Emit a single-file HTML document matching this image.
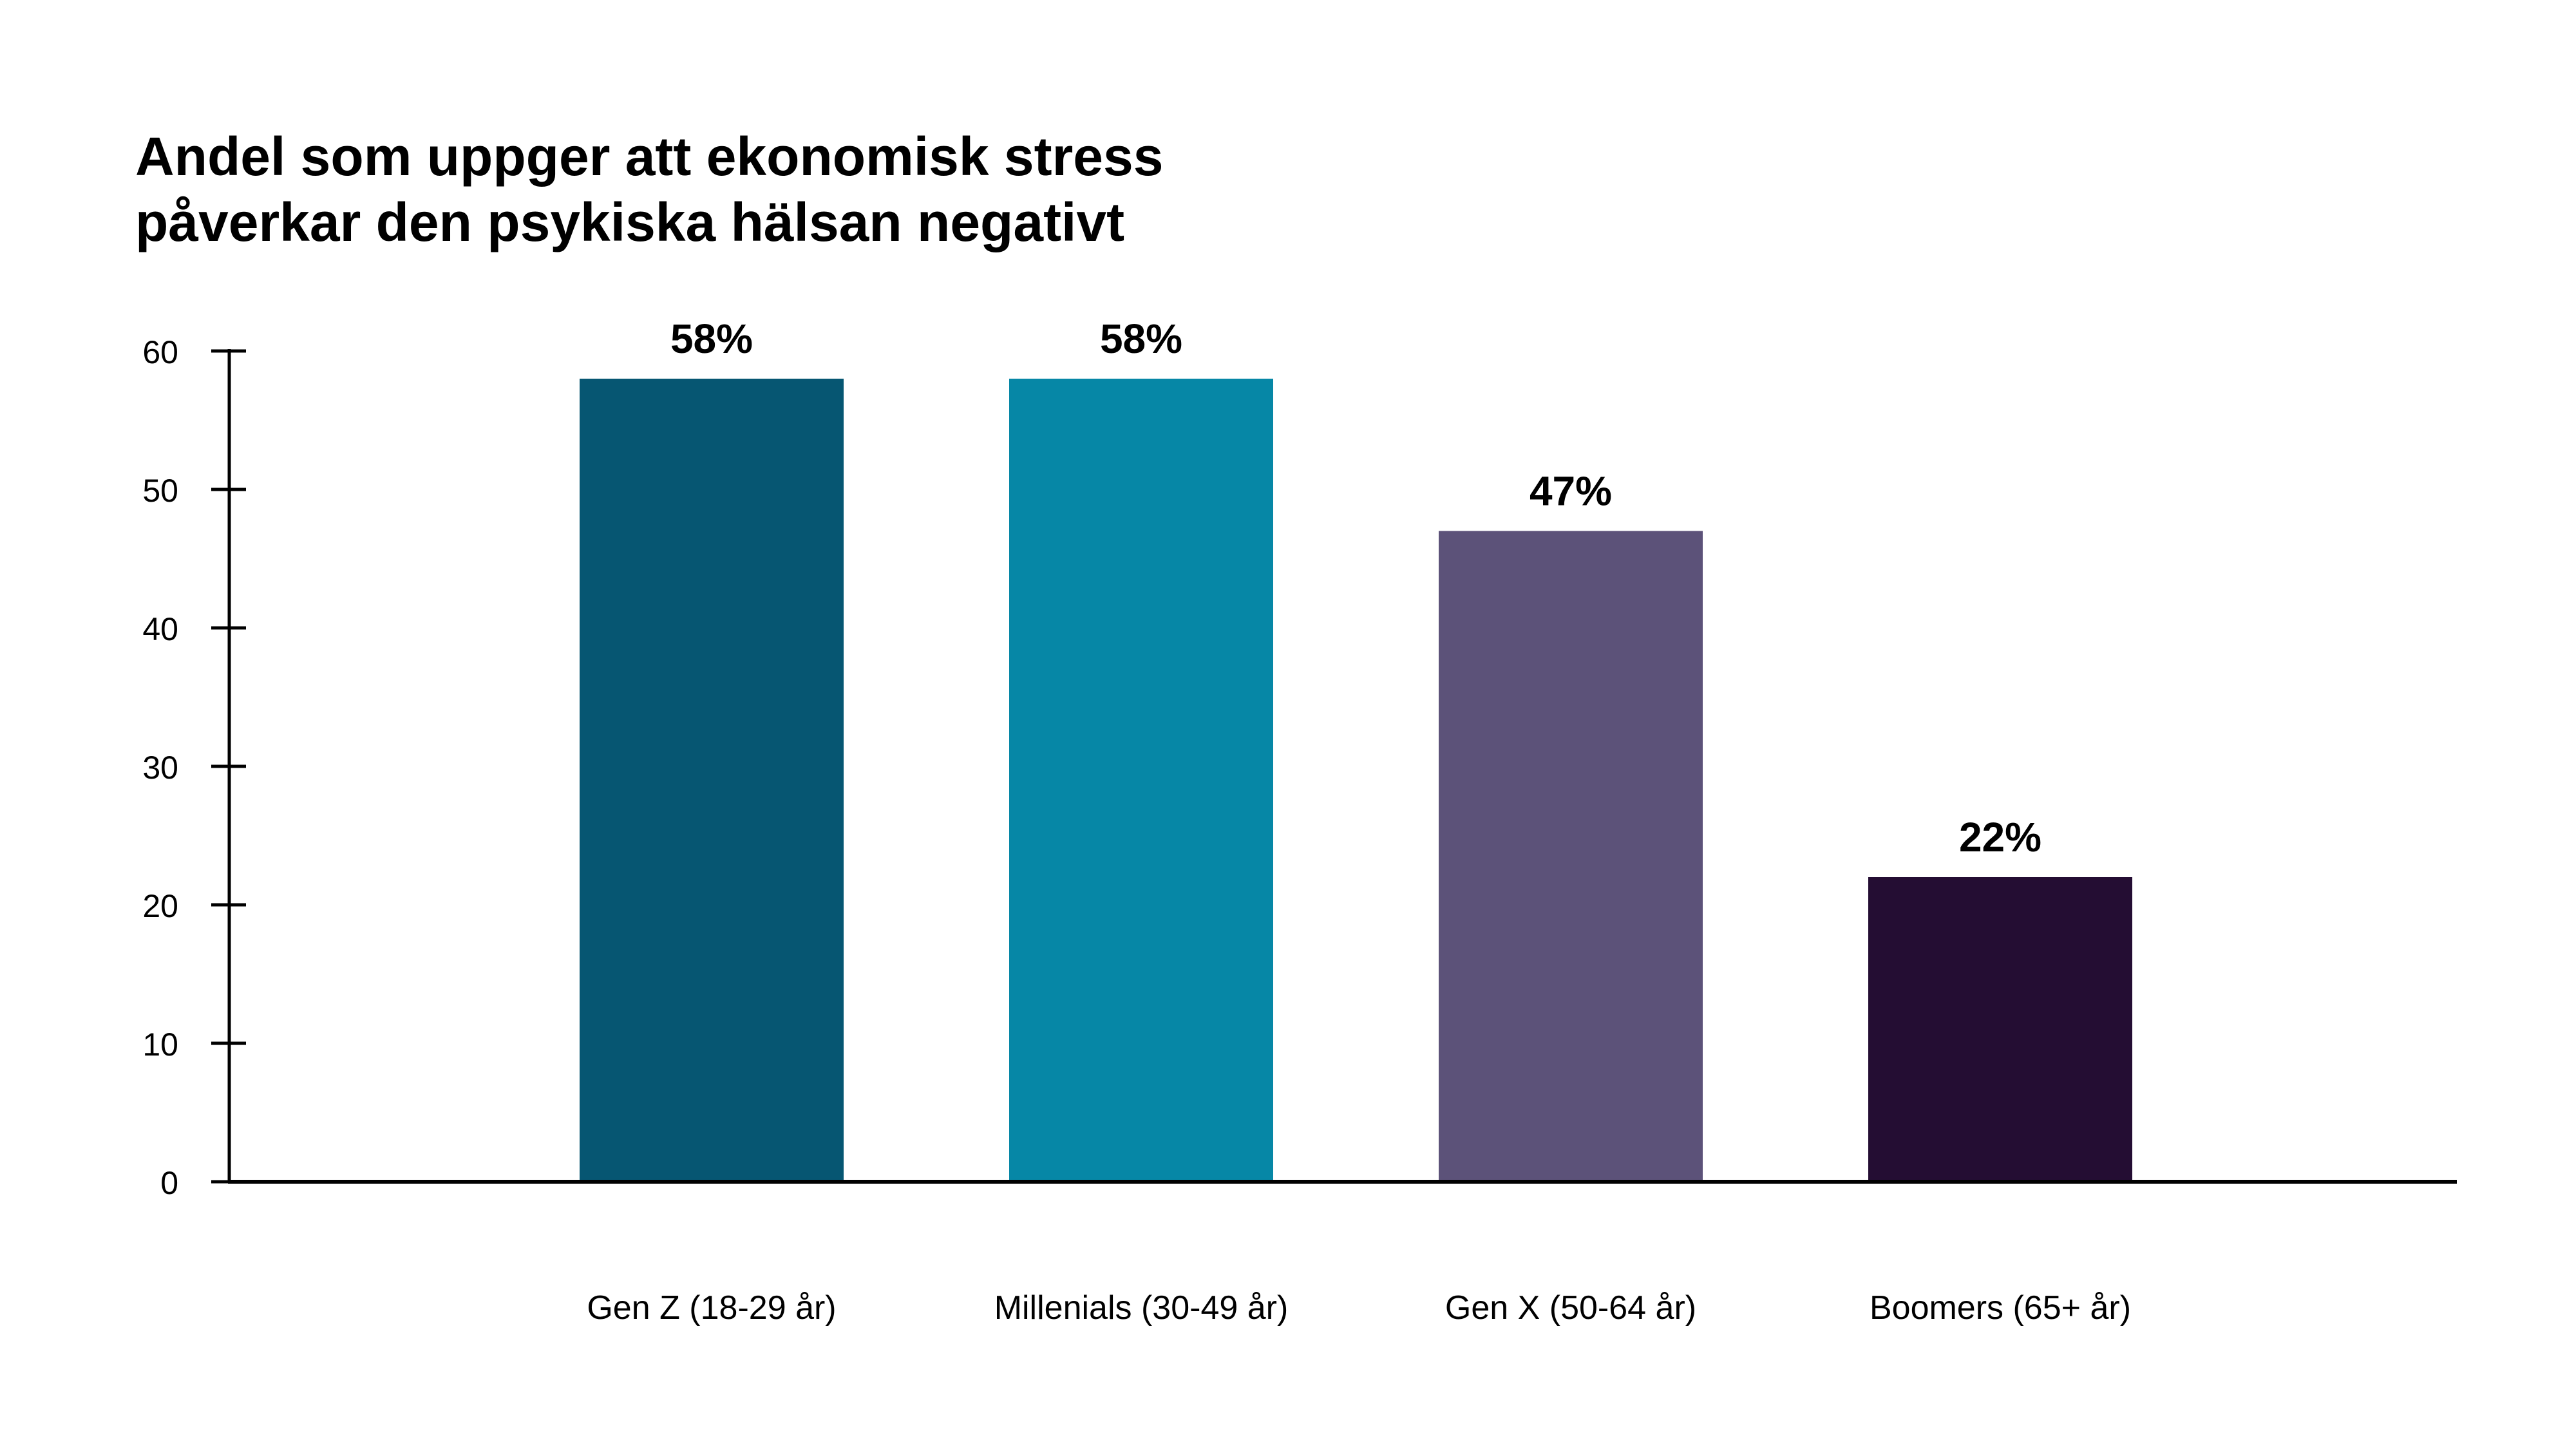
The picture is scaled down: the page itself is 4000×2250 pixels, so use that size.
<!DOCTYPE html>
<html><head><meta charset="utf-8"><style>
html,body{margin:0;padding:0;background:#fff;}
svg{display:block;font-family:"Liberation Sans",sans-serif;}
</style></head><body>
<svg id="chart" width="4000" height="2250" viewBox="0 0 4000 2250">
<text x="210" y="272" font-size="84" font-weight="bold" fill="#000">Andel som uppger att ekonomisk stress</text>
<text x="210" y="374" font-size="84" font-weight="bold" fill="#000">påverkar den psykiska hälsan negativt</text>
<g id="plot"></g>
</svg>
<script>
const categories = ["Gen Z (18-29 år)", "Millenials (30-49 år)", "Gen X (50-64 år)", "Boomers (65+ år)"];
const values = [58, 58, 47, 22];
const valueLabels = ["58%", "58%", "47%", "22%"];
const tickValues = [0, 10, 20, 30, 40, 50, 60];
const colors = ["#065672", "#0687a6", "#5c5279", "#240d33"];

const NS = "http://www.w3.org/2000/svg";
const g = document.getElementById("plot");
const y0 = 1835, yTop = 545, yMax = 60;
const y = v => y0 - (v / yMax) * (y0 - yTop);
const barW = 410, firstCenter = 1105, step = 667;
const x = i => firstCenter + i * step;
function mk(tag, attrs) { const e = document.createElementNS(NS, tag); for (const k in attrs) e.setAttribute(k, attrs[k]); g.appendChild(e); return e; }

values.forEach((v, i) => {
  const r = mk("rect", {x: x(i) - barW / 2, y: y(v), width: barW, height: y0 - y(v), fill: colors[i]});
  
  
  const t = mk("text", {x: x(i), y: y(v) - 40, "font-size": 64, "font-weight": "bold", "text-anchor": "middle", fill: "#000"});
  t.textContent = valueLabels[i];
  
  
  const c = mk("text", {x: x(i), y: 2048, "font-size": 52, "text-anchor": "middle", fill: "#000"});
  c.textContent = categories[i];
  
  
});
tickValues.forEach(v => {
  const l = mk("line", {x1: 328, x2: 382, y1: y(v), y2: y(v), stroke: "#000", "stroke-width": 5});
  
  
  const t = mk("text", {x: 277, y: y(v) + 19, "font-size": 50, "text-anchor": "end", fill: "#000"});
  t.textContent = v;
  
  
});
const ya = mk("line", {x1: 356, x2: 356, y1: yTop - 3, y2: y0, stroke: "#000", "stroke-width": 5});


const xa = mk("line", {x1: 354, x2: 3815, y1: y0, y2: y0, stroke: "#000", "stroke-width": 6});


</script>
</body></html>
